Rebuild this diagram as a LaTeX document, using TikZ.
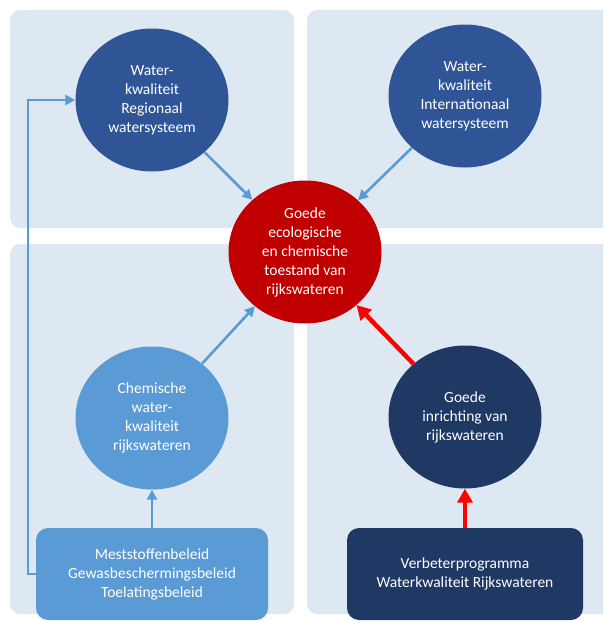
\documentclass[tikz,border=0pt]{standalone}
\usepackage{fontspec}
\setmainfont{Carlito}
\usetikzlibrary{shapes,
                calc,
                arrows.meta
  }

\definecolor{panelblue}{HTML}{DEE8F3}
\definecolor{stateblue}{HTML}{2F5597}
\definecolor{navyblue}{HTML}{1F3864}
\definecolor{lightblue}{HTML}{5B9BD5}
\definecolor{goalred}{HTML}{C00000}
\definecolor{arrowred}{HTML}{FF0000}

\begin{document}
\begin{tikzpicture}[
      x=1pt,
      y=-1pt,
      panel/.style={
                fill=panelblue,
                rounded corners=10pt
                },
      goal/.style={
                ellipse,
                inner sep=0pt,
                minimum width=153pt,
                minimum height=143pt,
                text=white,
                align=center
                },
      policy/.style={
                rectangle,
                rounded corners=12pt,
                inner sep=0pt,
                minimum width=232pt,
                minimum height=92pt,
                text=white,
                align=center
                },
      link/.style={
                draw=lightblue,
                line width=2.6pt,
                -{Triangle[length=10pt,width=10pt]}
                },
      redlink/.style={
                draw=arrowred,
                line width=4.5pt,
                -{Triangle[length=14pt,width=15pt]}
                },
      every node/.style={font=\fontsize{15.5}{19}\selectfont}
]

\useasboundingbox (0,0) rectangle (603,621);
\clip (0,0) rectangle (603,621);

\fill[panel] (10,10) rectangle (294,228);
\fill[panel] (307,10) rectangle (615,228);
\fill[panel] (10,244) rectangle (294,614);
\fill[panel] (307,244) rectangle (615,614);

\node[goal, fill=stateblue] (regionaal) at (152,100) {Water-\\kwaliteit\\Regionaal\\watersysteem};
\node[goal, fill=stateblue] (internationaal) at (465,96) {Water-\\kwaliteit\\Internationaal\\watersysteem};
\node[goal, fill=goalred] (toestand) at (305,252) {Goede\\ecologische\\en chemische\\toestand van\\rijkswateren};
\node[goal, fill=lightblue] (chemisch) at (152,418) {Chemische\\water-\\kwaliteit\\rijkswateren};
\node[goal, fill=navyblue] (inrichting) at (465,417) {Goede\\inrichting van\\rijkswateren};

\node[policy, fill=lightblue] (beleid) at (152,574) {Meststoffenbeleid\\Gewasbeschermingsbeleid\\Toelatingsbeleid};
\node[policy, fill=navyblue, minimum width=236pt] (programma) at (465,574) {Verbeterprogramma\\Waterkwaliteit Rijkswateren};

\draw[link] (regionaal) -- (toestand);
\draw[link] (internationaal) -- (toestand);
\draw[link] (chemisch) -- (toestand);
\draw[link] (beleid) -- (chemisch);
\draw[link] (beleid.west) -- ++(-8,0) |- (regionaal.west);

\draw[redlink] (inrichting) -- (toestand);
\draw[redlink] (programma) -- (inrichting);

\end{tikzpicture}
\end{document}
